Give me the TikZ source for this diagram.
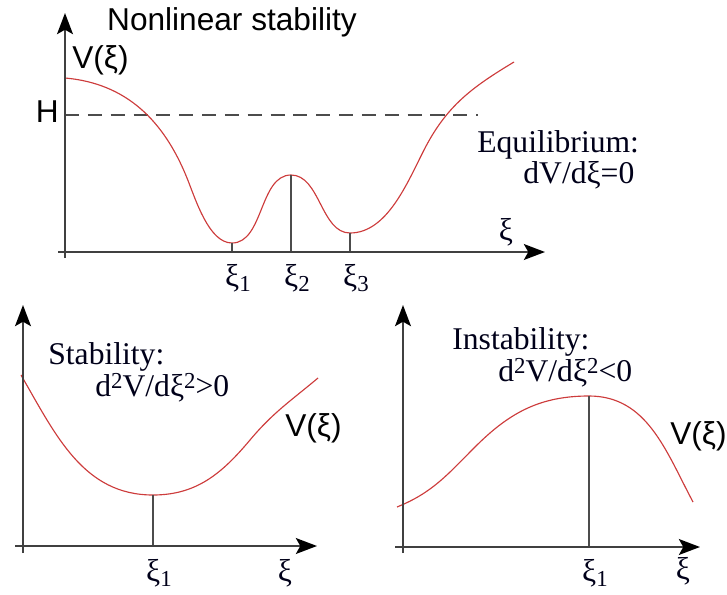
\documentclass[tikz,border=0pt]{standalone}
\usepackage{fontspec}
\setmainfont{Liberation Serif}
\setsansfont{Liberation Sans}
\usetikzlibrary{arrows.meta}
\definecolor{potred}{RGB}{205,60,60}
\newcommand{\lowidx}[1]{\raisebox{-0.35ex}{\fontsize{13}{13}\selectfont #1}}
\newcommand{\upidx}[1]{\raisebox{0.55ex}{\fontsize{13}{13}\selectfont #1}}

\begin{document}
\begin{tikzpicture}[x=0.02cm,y=-0.02cm,
  axis/.style={draw=black!75,line width=1.3pt},
  arr/.style={axis,-{Stealth[length=12pt,width=9pt,inset=2.5pt,black]}},
  pot/.style={draw=potred,line width=0.65pt},
  drop/.style={draw=black!70,line width=1.1pt},
  lab/.style={font=\fontsize{18}{20}\selectfont,inner sep=0pt,text=black!90!blue},
  sf/.style={font=\fontsize{18}{20}\selectfont\sffamily,inner sep=0pt}]
\useasboundingbox (0,0) rectangle (727,595);
\coordinate (a0) at (58,252);
\coordinate (a1) at (545,252);
\coordinate (b0) at (65,258);
\coordinate (b1) at (65,13);
\coordinate (h0) at (65,115);
\coordinate (h1) at (478,115);
\coordinate (m1) at (232,243);
\coordinate (m2) at (291,175);
\coordinate (m3) at (350,233);
\draw[black!70,line width=1.1pt,dash pattern=on 8pt off 5pt] (h0)--(h1);
\draw[pot] (65,78) to[out=-5,in=112] (187,178) to[out=-68,in=180,looseness=0.75] (m1)
  to[out=0,in=180,looseness=0.9] (m2) to[out=0,in=180,looseness=0.9] (m3)
  to[out=0,in=243,looseness=0.85] (424,150) to[out=63,in=211] (514,62);
\draw[drop] (m1)--(m1|-a0);
\draw[drop] (m2)--(m2|-a0);
\draw[drop] (m3)--(m3|-a0);
\draw[arr] (a0)--(a1);
\draw[arr] (b0)--(b1);
\node[sf,anchor=base] (title) at (232,31) {Nonlinear stability};
\node[sf,anchor=base west] (vtop) at (72,68) {V(ξ)};
\node[sf,anchor=base east] (h) at (59,122) {H};
\node[lab,anchor=base west] (eq) at (477,152) {Equilibrium:};
\node[lab,anchor=base west] (eqv) at (523,183) {dV/dξ=0};
\node[lab] (xitop) at (506,232) {ξ};
\node[lab] (xi1) at (238,278) {ξ\lowidx{1}};
\node[lab] (xi2) at (297,278) {ξ\lowidx{2}};
\node[lab] (xi3) at (356,278) {ξ\lowidx{3}};
\coordinate (c0) at (15,546);
\coordinate (c1) at (317,546);
\coordinate (d0) at (23,553);
\coordinate (d1) at (23,305);
\coordinate (s1) at (153,495);
\draw[pot] (21,375) to[out=-60,in=180] (s1) to[out=0,in=230] (250,440) to[out=50,in=220] (318,378);
\draw[drop] (s1)--(s1|-c0);
\draw[arr] (c0)--(c1);
\draw[arr] (d0)--(d1);
\node[lab,anchor=base west] (st) at (48,364) {Stability:};
\node[lab,anchor=base west] (stv) at (95,396) {d\upidx{2}V/dξ\upidx{2}>0};
\node[sf,anchor=base west] (vleft) at (285,436) {V(ξ)};
\node[lab] (xs1) at (159,573) {ξ\lowidx{1}};
\node[lab] (xs) at (285,573) {ξ};
\coordinate (e0) at (395,547);
\coordinate (e1) at (700,547);
\coordinate (f0) at (403,553);
\coordinate (f1) at (403,305);
\coordinate (u1) at (589,396);
\draw[pot] (397,507) to[out=22,in=225] (475,447) to[out=45,in=180] (u1) to[out=0,in=118] (693,502);
\draw[drop] (u1)--(u1|-e0);
\draw[arr] (e0)--(e1);
\draw[arr] (f0)--(f1);
\node[lab,anchor=base west] (ins) at (452,349) {Instability:};
\node[lab,anchor=base west] (insv) at (498,381) {d\upidx{2}V/dξ\upidx{2}<0};
\node[sf,anchor=base west] (vright) at (670,444) {V(ξ)};
\node[lab] (xu1) at (595,573) {ξ\lowidx{1}};
\node[lab] (xu) at (683,571) {ξ};
\end{tikzpicture}
\end{document}
